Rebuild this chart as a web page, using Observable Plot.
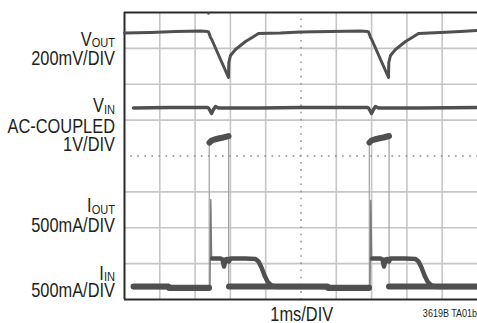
<!DOCTYPE html>
<html>
<head>
<meta charset="utf-8">
<script src="https://cdn.jsdelivr.net/npm/d3@7"></script>
<script src="https://cdn.jsdelivr.net/npm/@observablehq/plot@0.6"></script>
<style>
  body { margin: 0; background: #fff; }
</style>
</head>
<body>
<div id="chart"></div>
<script>
// Scope traces: time in ms (1ms/DIV), amplitude in graticule divisions
// (0 = bottom line of the screen, 8 = top line). null breaks a trace.

// V_OUT, 200mV/DIV
const voutT = [0, 0.737, 1.445, 2.153, 2.351, 2.380, 2.408, 2.436, 2.465, 2.946, 2.955, 3.003, 3.144, 3.286, 3.428, 3.569, 3.796, 4.419, 4.986, 5.836, 6.686, 6.884, 6.912, 6.941, 6.969, 6.997, 7.479, 7.487, 7.535, 7.677, 7.819, 7.960, 8.102, 8.329, 8.952, 9.518, 10];
const voutV = [7.429, 7.443, 7.470, 7.484, 7.470, 7.457, 7.387, 7.303, 7.261, 6.188, 6.606, 6.801, 6.969, 7.080, 7.192, 7.275, 7.415, 7.429, 7.457, 7.470, 7.484, 7.470, 7.457, 7.387, 7.303, 7.261, 6.188, 6.606, 6.801, 6.969, 7.080, 7.192, 7.275, 7.415, 7.443, 7.470, 7.498];

// V_IN, AC-coupled, 1V/DIV
const vinT = [0.255, 1.303, 2.351, 2.380, 2.436, 2.465, 2.521, 2.578, 2.663, 3.853, 4.986, 6.119, 6.884, 6.912, 6.969, 6.997, 7.054, 7.110, 7.195, 8.385, 10];
const vinV = [5.338, 5.352, 5.352, 5.338, 5.240, 5.185, 5.296, 5.380, 5.338, 5.338, 5.352, 5.352, 5.352, 5.338, 5.240, 5.185, 5.296, 5.380, 5.338, 5.338, 5.352];

// I_OUT, 500mA/DIV: idle level between load pulses
const ioutBaseT = [0.255, 1.246, 1.261, 2.394, null, 2.960, 5.751, 5.765, 6.926, null, 7.493, 10];
const ioutBaseV = [0.362, 0.362, 0.321, 0.321, null, 0.362, 0.362, 0.321, 0.321, null, 0.362, 0.362];
// I_OUT during the load pulses
const ioutPulseT = [2.408, 2.465, 2.550, 2.663, 2.805, 2.946, null, 6.941, 6.997, 7.082, 7.195, 7.337, 7.493];
const ioutPulseV = [4.376, 4.432, 4.460, 4.488, 4.516, 4.557, null, 4.376, 4.432, 4.460, 4.488, 4.516, 4.557];
// I_OUT pulse edges (fast, faint on screen)
const ioutEdgeT = [2.400, 2.950, 6.935, 7.495];
const ioutEdgeTop = [4.376, 4.557, 4.376, 4.557];

// I_IN, 500mA/DIV
const iinT = [0.255, 2.408, null, 2.479, 2.720, 2.776, 2.819, 2.861, 2.918, 2.960, 3.003, 3.428, 3.711, 3.796, 3.881, 3.966, 4.051, 4.164, 4.306, 6.941, null, 7.011, 7.252, 7.309, 7.351, 7.394, 7.450, 7.493, 7.535, 7.960, 8.244, 8.329, 8.414, 8.499, 8.584, 8.697, 8.839, 10];
const iinV = [0.348, 0.348, null, 1.143, 1.143, 1.115, 0.920, 1.115, 1.129, 1.059, 1.143, 1.143, 1.129, 1.059, 0.892, 0.669, 0.502, 0.390, 0.348, 0.348, null, 1.143, 1.143, 1.115, 0.920, 1.115, 1.129, 1.059, 1.143, 1.143, 1.129, 1.059, 0.892, 0.669, 0.502, 0.390, 0.348, 0.348];
// I_IN inrush spike at each pulse start
const iinSpikeT = [2.422, 2.445, 2.470, null, 6.955, 6.977, 7.003];
const iinSpikeV = [0.348, 2.787, 1.143, null, 0.348, 2.760, 1.143];

// Trigger marker
const trigT = [2.380];
const trigV = [7.972];

// Channel labels and scale notes
const labelText = ["V_OUT", "200mV/DIV", "V_IN", "AC-COUPLED", "1V/DIV", "I_OUT", "500mA/DIV", "I_IN", "500mA/DIV"];
const timebase = "1ms/DIV";
const figureId = "3619B TA01b";

// Graticule
const gridX = [1, 2, 3, 4, 6, 7, 8, 9];
const gridY = [1, 2, 3, 5, 6, 7];

const pts = (T, V) => T.map((t, i) => ({t, v: V[i]}));

// label baselines, in divisions
const labelRows = [7.08, 6.523, 5.213, 4.655, 4.153, 2.43, 1.895, 0.557, 0.056];
const labels = labelText.map((s, i) => ({s, v: labelRows[i]}));

const trace = "#505050";
const font = "'Liberation Sans', Arial, sans-serif";

const chart = Plot.plot({
  width: 477,
  height: 323,
  marginLeft: 124,
  marginRight: 0,
  marginTop: 12,
  marginBottom: 24,
  x: {domain: [0, 10], axis: null},
  y: {domain: [0, 8], axis: null},
  style: {background: "#fff", fontFamily: font},
  marks: [
    Plot.ruleX(gridX, {stroke: "#c6c6c6", strokeWidth: 1.6}),
    Plot.ruleY(gridY, {stroke: "#c6c6c6", strokeWidth: 1.6}),
    Plot.ruleX([5], {stroke: "#8a8a8a", strokeWidth: 1.4, strokeDasharray: "1.6 5.575", strokeDashoffset: 0.8}),
    Plot.ruleY([4], {stroke: "#8a8a8a", strokeWidth: 1.6, strokeDasharray: "1.6 5.46", strokeDashoffset: 0.8}),
    Plot.ruleX([0], {stroke: "#2a2a2a", strokeWidth: 2}),
    Plot.ruleY([0, 8], {stroke: "#2a2a2a", strokeWidth: 2}),

    Plot.ruleX(pts(ioutEdgeT, ioutEdgeTop), {x: "t", y1: 0.33, y2: "v", stroke: "#a0a0a0", strokeWidth: 1.2}),
    Plot.line(pts(iinSpikeT, iinSpikeV), {x: "t", y: "v", stroke: "#777", strokeWidth: 1.3}),
    Plot.line(pts(ioutBaseT, ioutBaseV), {x: "t", y: "v", stroke: trace, strokeWidth: 6}),
    Plot.line(pts(iinT, iinV), {x: "t", y: "v", stroke: trace, strokeWidth: 4.5, strokeLinejoin: "round"}),
    Plot.line(pts(ioutPulseT, ioutPulseV), {x: "t", y: "v", stroke: trace, strokeWidth: 6}),
    Plot.line(pts(vinT, vinV), {x: "t", y: "v", stroke: trace, strokeWidth: 3.4, strokeLinejoin: "round"}),
    Plot.line(pts(voutT, voutV), {x: "t", y: "v", stroke: trace, strokeWidth: 3, strokeLinejoin: "round"}),
    Plot.dot(pts(trigT, trigV), {x: "t", y: "v", r: 1.3, fill: trace, stroke: null}),

    Plot.text(labels, {x: -0.27, y: "v", text: "s", textAnchor: "end", lineAnchor: "bottom", fontSize: 20, fill: "#231f20"}),
    Plot.text([timebase], {x: 5.02, y: -0.61, text: d => d, textAnchor: "middle", lineAnchor: "bottom", fontSize: 20, fill: "#231f20"}),
    Plot.text([figureId], {x: 9.99, y: -0.5, text: d => d, textAnchor: "end", lineAnchor: "bottom", fontSize: 11, fill: "#231f20"})
  ]
});

// Condensed lettering: squeeze each text horizontally about its anchor,
// and set "V_OUT" as V with OUT as a subscript
d3.select(chart).selectAll("text").each(function () {
  const t = d3.select(this);
  const tr = t.attr("transform") || "";
  t.attr("transform", tr + " scale(0.82,1)");
  const s = this.textContent;
  if (s.includes("_")) {
    const [main, sub] = s.split("_");
    t.text(null);
    t.append("tspan").text(main);
    t.append("tspan").attr("font-size", 13.5).attr("dy", 1.5).text(sub);
  }
});

document.getElementById("chart").append(chart);
</script>
</body>
</html>
